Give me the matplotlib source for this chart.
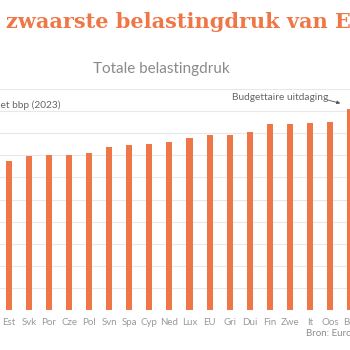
import matplotlib
matplotlib.use('Agg')
import matplotlib.pyplot as plt

# Totale belastingdruk, in % van het bbp (2023)
landen = ['Est', 'Svk', 'Por', 'Cze', 'Pol', 'Svn', 'Spa', 'Cyp', 'Ned', 'Lux',
          'EU', 'Gri', 'Dui', 'Fin', 'Zwe', 'It', 'Oos', 'Bel']
druk = [33.7, 34.9, 35.1, 35.1, 35.6, 36.9, 37.4, 37.5, 38.1, 39.0,
        39.7, 39.7, 40.3, 42.0, 42.1, 42.4, 42.6, 45.4]

ORANJE = '#EF7747'
GRIJS = '#8c8c8c'
W, H = 350, 350

fig = plt.figure(figsize=(W / 100, H / 100), dpi=100)
fig.patch.set_facecolor('white')

# axes span the full width; the chart continues past both edges
ax = fig.add_axes([0, (H - 310) / H, 1, 221 / H])
step = 20.23
ax.set_xlim(-9 / step, (W - 9) / step)
ax.set_ylim(0, 50)

x = list(range(len(landen)))
ax.bar(x, druk, width=0.3, color=ORANJE, zorder=2)

ax.set_yticks(range(0, 51, 5))
ax.yaxis.grid(True, color='#e8e8e8', linewidth=0.8, zorder=0)
ax.set_axisbelow(True)
ax.tick_params(axis='y', left=False, labelleft=False)
ax.tick_params(axis='x', length=0, pad=6)
ax.set_xticks(x)
ax.set_xticklabels(landen, fontsize=7, color='#999999', family='Lato')
for s in ax.spines.values():
    s.set_visible(False)

# titles and annotations (pixel positions, origin top-left)
def px(xp, yp):
    return xp / W, 1 - yp / H

fig.text(*px(6, 22), 'zwaarste belastingdruk van Europa', fontsize=15,
         fontweight='bold', family='DejaVu Serif', color=ORANJE,
         ha='left', va='center')
fig.text(*px(161, 69), 'Totale belastingdruk', fontsize=11,
         family='Lato', color='#8a8a8a', ha='center', va='center')
fig.text(*px(61, 105), 'In % van het bbp (2023)', fontsize=7.3,
         family='Lato', color='#666666', ha='right', va='center')
fig.text(*px(232, 98), 'Budgettaire uitdaging', fontsize=7.3,
         family='Lato', color='#666666', ha='left', va='center')
fig.add_artist(matplotlib.patches.FancyArrowPatch(
    px(324, 99), px(343, 104), transform=fig.transFigure,
    arrowstyle='-|>', mutation_scale=5, color='#555555', linewidth=0.6))
fig.text(*px(306, 334), 'Bron: Europese Commissie', fontsize=7,
         family='Lato', color=GRIJS, ha='left', va='center')

fig.savefig('out.png', dpi=100)
